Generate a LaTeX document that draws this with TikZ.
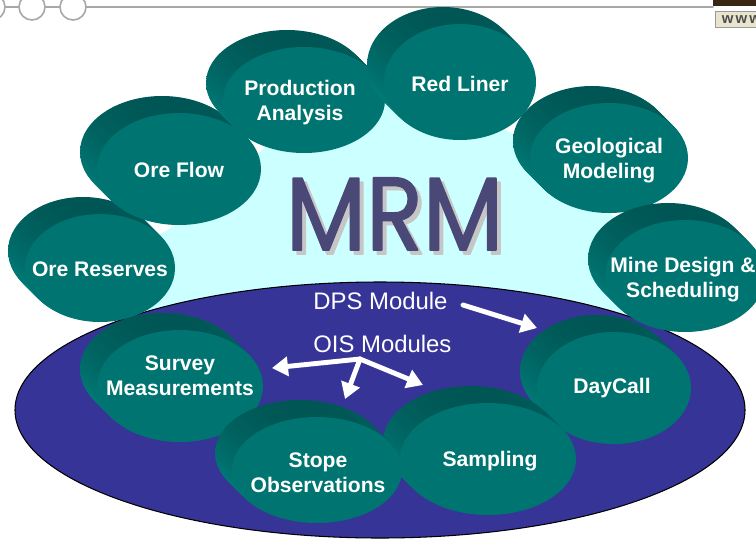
\documentclass[tikz,border=0pt]{standalone}
\usepackage{fontspec}
\usepackage{graphicx}
\setmainfont{Liberation Sans}
\newfontfamily\mrmfont{Poppins}[FakeBold=1.6]
\usetikzlibrary{arrows.meta}

\definecolor{discface}{RGB}{0,116,112}
\definecolor{sidedark}{RGB}{0,86,84}
\definecolor{sidelight}{RGB}{0,136,132}
\definecolor{plate}{RGB}{55,52,152}
\definecolor{sky}{RGB}{204,255,255}
\definecolor{mrmblue}{RGB}{74,72,118}
\definecolor{railgray}{RGB}{168,168,168}
\definecolor{boxbeige}{RGB}{232,228,206}

% disc: centre x, centre y, x radius, y radius (px)
\newcommand{\disc}[4]{%
  \foreach \k in {17,...,1}
    \shade[top color=sidedark, bottom color=sidelight] (#1-\k,#2-\k) ellipse [x radius=#3, y radius=#4];
  \fill[discface] (#1,#2) ellipse [x radius=#3, y radius=#4];
}

\tikzset{
  disclabel/.style={text=white, font=\fontsize{12}{14.2}\selectfont\bfseries, align=center, inner sep=0pt},
  modlabel/.style={text=white, font=\fontsize{13.6}{16}\selectfont, inner sep=0pt, anchor=base west},
  modarrow/.style={white, line width=2.8pt, -{Triangle[length=0.32cm, width=0.38cm]}},
  mrmtext/.style={font=\mrmfont\fontsize{59}{59}\selectfont, inner sep=0pt, anchor=base}
}

\begin{document}
\begin{tikzpicture}[x=0.02cm, y=-0.02cm, line cap=round, line join=round]
\useasboundingbox (0,0) rectangle (756,541);
\clip (0,0) rectangle (756,541);

\draw[railgray, line width=0.9pt] (-30,7) -- (713,7);
\foreach \cx in {-8,32,73}
  \draw[railgray, line width=0.9pt, fill=white] (\cx,7) circle [radius=13];
\fill[black!70!brown] (713,-2) rectangle (760,6);
\node[draw=gray!80, fill=boxbeige, anchor=north west, minimum height=0.33cm, inner xsep=0.13cm, inner ysep=0pt,
      text=gray!60!black, font=\fontsize{8.5}{8.5}\selectfont\bfseries] (www) at (715,11) {w\hspace{1.2pt}w\hspace{1.2pt}w};

\fill[sky] (120,300) -- (150,240) -- (210,205) -- (300,110) -- (440,90) -- (580,175)
  -- (640,250) -- (660,300) -- (640,360) -- (130,350) -- cycle;

\draw[fill=plate, line width=0.6pt] (380,410) ellipse [x radius=365, y radius=128];

\disc{100}{268}{75}{54}
\disc{179}{169}{82}{56}
\disc{304}{100}{81}{53}
\disc{460}{82}{76}{58}
\disc{609}{158}{79}{55}
\disc{685}{276}{80}{56}

\disc{180}{386}{83}{56}
\disc{614}{388}{77}{56}
\disc{488}{459}{88}{56}
\disc{317}{470}{85}{53}

\node[disclabel] (orereserves) at (100,269) {Ore Reserves};
\node[disclabel] (oreflow) at (179,170) {Ore Flow};
\node[disclabel] (production) at (300,103) {Production\\Analysis};
\node[disclabel] (redliner) at (460,84) {Red Liner};
\node[disclabel] (geological) at (609,161) {Geological\\Modeling};
\node[disclabel] (minedesign) at (683,280) {Mine Design \&\\Scheduling};
\node[disclabel] (survey) at (180,376) {Survey\\Measurements};
\node[disclabel] (stope) at (318,473) {Stope\\Observations};
\node[disclabel] (sampling) at (490,461) {Sampling};
\node[disclabel] (daycall) at (612,388) {DayCall};

\node[mrmtext, text=gray!45] (mrmshadow) at (398.5,254) {\scalebox{0.9}[1]{MRM}};
\node[mrmtext, text=mrmblue] (mrm) at (394.5,250) {\scalebox{0.9}[1]{MRM}};

\node[modlabel] (dps) at (313,309) {DPS Module};
\node[modlabel] (ois) at (313,352) {OIS Modules};

\coordinate (dpsstart) at (463,305);
\coordinate (dpstip) at (537,328);
\coordinate (oisfork) at (360,359);
\coordinate (surveytip) at (272,368);
\coordinate (stopetip) at (345,399);
\coordinate (samplingtip) at (423,385);
\draw[modarrow] (dpsstart) -- (dpstip);
\foreach \t in {surveytip,stopetip,samplingtip}
  \draw[modarrow] (oisfork) -- (\t);
\end{tikzpicture}
\end{document}
